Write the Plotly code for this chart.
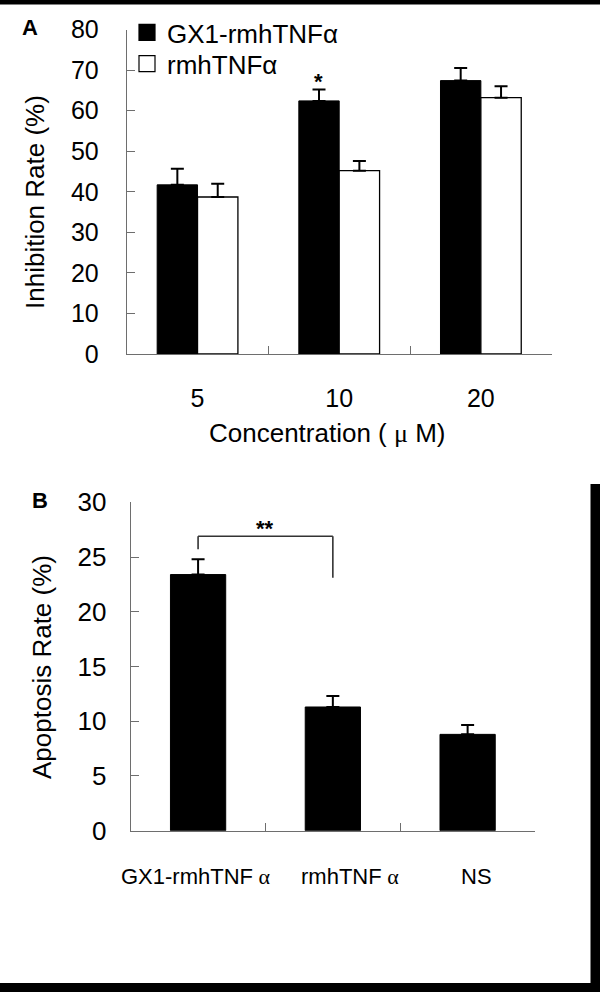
import plotly.graph_objects as go

W, H = 600, 992


def fx(px):
    return px / W


def fy(py):
    return 1 - py / H


FONT = "Liberation Sans, Arial, sans-serif"
SERIF = "Liberation Serif, Times New Roman, serif"
AXIS_GREY = "#6e6e6e"

# ---------------- Panel A data ----------------
conc_labels = ["5", "10", "20"]
gx1_inhibition = [41.7, 62.4, 67.4]
gx1_inhibition_err = [4.0, 2.8, 3.1]
rmh_inhibition = [38.7, 45.2, 63.2]
rmh_inhibition_err = [3.3, 2.4, 2.8]
series_names = ["GX1-rmhTNFα", "rmhTNFα"]
yticks_a = [0, 10, 20, 30, 40, 50, 60, 70, 80]

# ---------------- Panel B data ----------------
groups_b = ["GX1-rmhTNF", "rmhTNF", "NS"]
groups_b_suffix = [" α", " α", ""]
apoptosis = [23.4, 11.3, 8.8]
apoptosis_err = [1.4, 1.0, 0.85]
yticks_b = [0, 5, 10, 15, 20, 25, 30]

fig = go.Figure()

# Panel A bars
fig.add_trace(go.Bar(
    x=conc_labels, y=gx1_inhibition, name=series_names[0],
    marker=dict(color="black", line=dict(color="black", width=1)),
    error_y=dict(type="data", symmetric=False, array=gx1_inhibition_err,
                 arrayminus=[0] * len(gx1_inhibition_err),
                 color="black", thickness=2, width=6.5),
    xaxis="x", yaxis="y", showlegend=False,
))
fig.add_trace(go.Bar(
    x=conc_labels, y=rmh_inhibition, name=series_names[1],
    marker=dict(color="white", line=dict(color="black", width=1.3)),
    error_y=dict(type="data", symmetric=False, array=rmh_inhibition_err,
                 arrayminus=[0] * len(rmh_inhibition_err),
                 color="black", thickness=2, width=6.5),
    xaxis="x", yaxis="y", showlegend=False,
))
# legend entries (larger square symbols), one legend box per entry
for nm, col, lg in zip(series_names, ["black", "white"], ["legend", "legend2"]):
    fig.add_trace(go.Scatter(
        x=[None], y=[None], mode="markers", name=nm,
        marker=dict(symbol="square", size=16, color=col,
                    line=dict(color="black", width=1.2)),
        xaxis="x", yaxis="y", showlegend=True, legend=lg,
    ))

# Panel B bars
fig.add_trace(go.Bar(
    x=groups_b, y=apoptosis, width=0.41,
    marker=dict(color="black", line=dict(color="black", width=1)),
    error_y=dict(type="data", symmetric=False, array=apoptosis_err,
                 arrayminus=[0] * len(apoptosis_err),
                 color="black", thickness=2, width=6.5),
    xaxis="x2", yaxis="y2", showlegend=False,
))

axis_common = dict(
    showgrid=False, zeroline=False, showline=True, linecolor=AXIS_GREY,
    linewidth=1, ticks="inside", ticklen=8, tickcolor=AXIS_GREY, tickwidth=1,
    tickfont=dict(family=FONT, size=25, color="black"), automargin=False,
)

legend_common = dict(xanchor="left", yanchor="middle", bgcolor="rgba(0,0,0,0)",
                     font=dict(family=FONT, size=26), itemsizing="trace")

fig.update_layout(
    width=W, height=H,
    margin=dict(l=0, r=0, t=0, b=0),
    paper_bgcolor="white", plot_bgcolor="white",
    barmode="group", bargap=0.43, bargroupgap=0,
    font=dict(family=FONT, color="black"),
    xaxis=dict(axis_common, type="category", domain=[fx(126.7), fx(551.7)],
               range=[-0.5, 2.5], tickson="boundaries", anchor="y",
               ticklabelstandoff=22),
    yaxis=dict(axis_common, domain=[fy(354), fy(29.5)], range=[0, 80],
               tickvals=yticks_a, anchor="x", ticklabelstandoff=22),
    xaxis2=dict(axis_common, type="category", domain=[fx(130.7), fx(535)],
                range=[-0.5, 2.5], tickson="boundaries", anchor="y2",
                showticklabels=False),
    yaxis2=dict(axis_common, domain=[fy(830.7), fy(502.3)], range=[0, 30],
                tickvals=yticks_b, anchor="x2", ticklabelstandoff=18,
                tickfont=dict(family=FONT, size=26, color="black")),
    legend=dict(legend_common, x=fx(127), y=fy(32.5)),
    legend2=dict(legend_common, x=fx(127), y=fy(63.7)),
)

C = dict(xanchor="center", yanchor="middle", showarrow=False)
ann = []
# panel letters
ann.append(dict(C, text="<b>A</b>", x=fx(30), y=fy(27.5), xref="paper", yref="paper",
                font=dict(family=FONT, size=22)))
ann.append(dict(C, text="<b>B</b>", x=fx(39.7), y=fy(500), xref="paper", yref="paper",
                font=dict(family=FONT, size=22)))
# axis titles
ann.append(dict(C, text="Inhibition Rate (%)", x=fx(35), y=fy(202), xref="paper",
                yref="paper", textangle=-90, font=dict(family=FONT, size=26)))
ann.append(dict(C, text="Concentration ( <span style='font-family:%s'>μ</span> M)" % SERIF,
                x=fx(327.5), y=fy(433), xref="paper", yref="paper",
                font=dict(family=FONT, size=26)))
ann.append(dict(C, text="Apoptosis Rate (%)", x=fx(42), y=fy(667), xref="paper",
                yref="paper", textangle=-90, font=dict(family=FONT, size=26)))
# panel B category labels
label_centres = [196.4, 350.5, 476]
for g, suf, cx in zip(groups_b, groups_b_suffix, label_centres):
    txt = g + ("<span style='font-family:%s'>%s</span>" % (SERIF, suf) if suf else "")
    ann.append(dict(C, text=txt, x=fx(cx), y=fy(876), xref="paper", yref="paper",
                    font=dict(family=FONT, size=22)))
# significance marks
ann.append(dict(C, text="<b>*</b>", x=1 - 0.144, y=fy(81), xref="x", yref="paper",
                font=dict(family=FONT, size=22)))
ann.append(dict(C, text="<b>**</b>", x=0.5, y=fy(528), xref="x2", yref="paper",
                font=dict(family=FONT, size=22)))
fig.update_layout(annotations=ann)

shapes = []
# bracket in panel B
br_top, br_left_end, br_right_end = 26.9, 25.7, 23.1
line_style = dict(color="#333333", width=1.6)
shapes.append(dict(type="line", xref="x2", yref="y2", x0=0, x1=0,
                   y0=br_left_end, y1=br_top, line=line_style))
shapes.append(dict(type="line", xref="x2", yref="y2", x0=0, x1=1,
                   y0=br_top, y1=br_top, line=line_style))
shapes.append(dict(type="line", xref="x2", yref="y2", x0=1, x1=1,
                   y0=br_top, y1=br_right_end, line=line_style))
# black frame edges of the original image
frame = dict(type="rect", xref="paper", yref="paper", fillcolor="black",
             line=dict(width=0), layer="above")
shapes.append(dict(frame, x0=0, x1=1, y0=fy(4.5), y1=1))
shapes.append(dict(frame, x0=0, x1=1, y0=0, y1=fy(983)))
shapes.append(dict(frame, x0=fx(590.5), x1=1, y0=0, y1=fy(484)))
fig.update_layout(shapes=shapes)

# remove the default 8px page margin so the figure fills the window exactly
fig.write_html("out.html", config={"displayModeBar": False},
               post_script="document.body.style.margin='0';")
